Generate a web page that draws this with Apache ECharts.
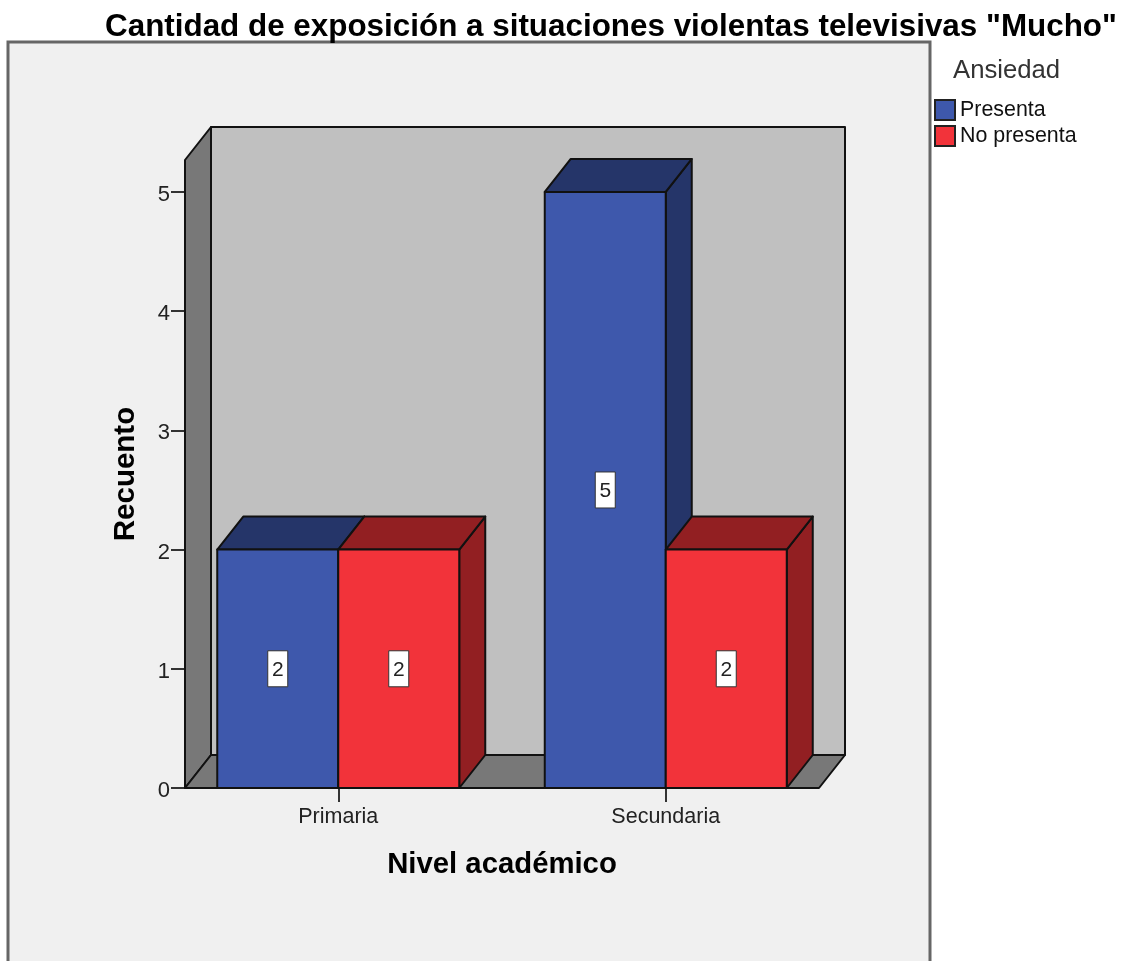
<!DOCTYPE html>
<html><head><meta charset="utf-8">
<style>html,body{margin:0;padding:0;background:#fff}#c{width:1140px;height:961px}</style>
<script src="https://cdn.jsdelivr.net/npm/echarts@6/dist/echarts.min.js"></script>
</head><body><div id="c"></div>
<script>
const titleText = 'Cantidad de exposición a situaciones violentas televisivas "Mucho"';
const categories = ['Primaria', 'Secundaria'];
const presenta = [2, 5];
const noPresenta = [2, 2];
const yTicks = [0, 1, 2, 3, 4, 5];
const yMax = 5.268;

const DX = 26, DY = -33, BAR_W = 121, FONT = '"Liberation Sans", Arial, sans-serif';
const LINE = '#111';

function renderWalls(params, api) {
  const cs = params.coordSys;
  const left = cs.x + 10.5, right = cs.x + cs.width - 10.5;
  const top = cs.y, bottom = cs.y + cs.height;
  const shape = (pts, fill) => ({
    type: 'polygon', shape: { points: pts },
    style: { fill, stroke: LINE, lineWidth: 2, lineJoin: 'round' }
  });
  return {
    type: 'group',
    children: [
      shape([[left + DX, top + DY], [right + DX, top + DY], [right + DX, bottom + DY], [left + DX, bottom + DY]], '#c0c0c0'),
      shape([[left, top], [left + DX, top + DY], [left + DX, bottom + DY], [left, bottom]], '#787878'),
      shape([[left, bottom], [left + DX, bottom + DY], [right + DX, bottom + DY], [right, bottom]], '#787878')
    ]
  };
}

function makeRender(side, front, dark) {
  return function (params, api) {
    const base = api.coord([api.value(0), 0]);
    const head = api.coord([api.value(0), api.value(1)]);
    const x0 = side < 0 ? base[0] - BAR_W : base[0];
    const x1 = x0 + BAR_W, yb = base[1], yt = head[1];
    const poly = (pts, fill) => ({
      type: 'polygon', shape: { points: pts },
      style: { fill, stroke: LINE, lineWidth: 2, lineJoin: 'round' }
    });
    const cx = (x0 + x1) / 2, cy = (yb + yt) / 2;
    return {
      type: 'group',
      children: [
        poly([[x1, yt], [x1 + DX, yt + DY], [x1 + DX, yb + DY], [x1, yb]], dark),
        poly([[x0, yt], [x0 + DX, yt + DY], [x1 + DX, yt + DY], [x1, yt]], dark),
        poly([[x0, yt], [x1, yt], [x1, yb], [x0, yb]], front),
        { type: 'rect', shape: { x: cx - 10, y: cy - 18, width: 20, height: 36 },
          style: { fill: '#fff', stroke: '#333', lineWidth: 1 } },
        { type: 'text', x: cx, y: cy + 1,
          style: { text: String(api.value(1)), fill: '#222', font: '21px ' + FONT, align: 'center', verticalAlign: 'middle' } }
      ]
    };
  };
}

const chart = echarts.init(document.getElementById('c'), null, { renderer: 'canvas' });
chart.setOption({
  animation: false,
  backgroundColor: '#fff',
  title: [
    { text: titleText, left: 100, top: 7, textStyle: { fontFamily: FONT, fontWeight: 'bold', fontSize: 31.4, color: '#000' } },
    { text: 'Ansiedad', left: 948, top: 53, textStyle: { fontFamily: FONT, fontWeight: 'normal', fontSize: 25.7, color: '#333' } }
  ],
  graphic: [{
    type: 'rect', z: 0, silent: true,
    shape: { x: 8, y: 42, width: 922, height: 940 },
    style: { fill: '#f0f0f0', stroke: '#666', lineWidth: 3 }
  }],
  legend: {
    orient: 'vertical', left: 929, top: 93, itemWidth: 20, itemHeight: 20, itemGap: 2,
    icon: 'rect', data: ['Presenta', 'No presenta'],
    textStyle: { fontFamily: FONT, fontSize: 21.4, lineHeight: 20, padding: [4, 0, 0, 0], color: '#111' }
  },
  grid: { left: 174.5, right: 1140 - 829.5, top: 160, bottom: 961 - 788, containLabel: false },
  xAxis: {
    type: 'category', data: categories,
    name: 'Nivel académico', nameLocation: 'middle', nameGap: 62,
    nameTextStyle: { fontFamily: FONT, fontWeight: 'bold', fontSize: 29.3, color: '#000' },
    axisLine: { show: false },
    axisTick: { show: true, alignWithLabel: true, length: 14, lineStyle: { color: '#333', width: 2 } },
    axisLabel: { margin: 18, fontFamily: FONT, fontSize: 21.5, color: '#222' }
  },
  yAxis: {
    type: 'value', min: 0, max: yMax, interval: 1, offset: -10.5,
    name: 'Recuento', nameLocation: 'middle', nameGap: 44, nameRotate: 90,
    nameTextStyle: { fontFamily: FONT, fontWeight: 'bold', fontSize: 29.5, color: '#000' },
    splitLine: { show: false },
    axisLine: { show: false },
    axisTick: { show: true, length: 14, customValues: yTicks, lineStyle: { color: '#333', width: 2 } },
    axisLabel: { margin: 15, verticalAlign: 'top', lineHeight: 6, fontFamily: FONT, fontSize: 22, color: '#222', customValues: yTicks }
  },
  series: [
    { type: 'custom', name: 'walls', z: 1, renderItem: renderWalls, data: [[0, 0]], silent: true, encode: { x: 0, y: 1 } },
    { type: 'custom', name: 'Presenta', z: 2, itemStyle: { color: '#3e58ac', borderColor: '#222', borderWidth: 1.5 },
      renderItem: makeRender(-1, '#3e58ac', '#253569'),
      encode: { x: 0, y: 1 }, data: presenta.map((v, i) => [i, v]) },
    { type: 'custom', name: 'No presenta', z: 3, itemStyle: { color: '#f2333a', borderColor: '#222', borderWidth: 1.5 },
      renderItem: makeRender(1, '#f2333a', '#921f22'),
      encode: { x: 0, y: 1 }, data: noPresenta.map((v, i) => [i, v]) }
  ]
});
</script></body></html>
